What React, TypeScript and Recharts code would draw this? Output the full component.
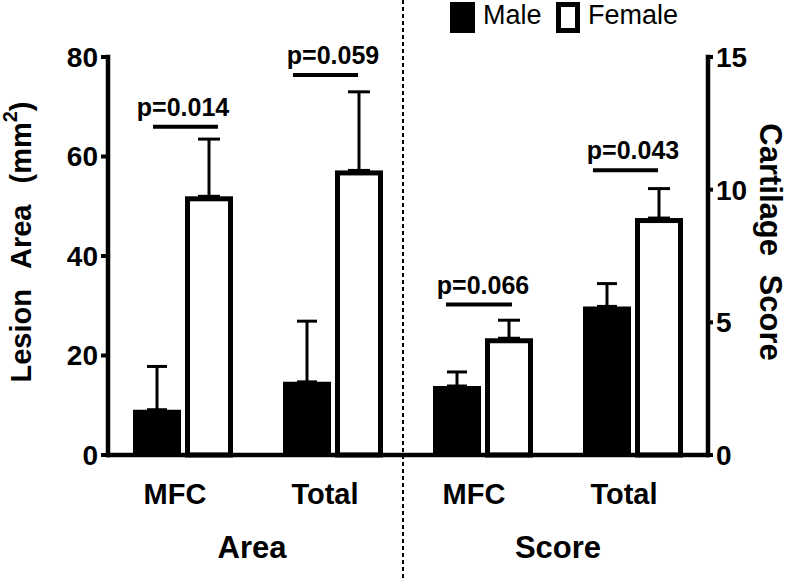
import React from "react";
import { BarChart, Bar, XAxis, YAxis, ErrorBar, ReferenceArea, Legend } from "recharts";

// left panel: lesion area (mm2)
const areaCategories = ["MFC", "Total"];
const areaMale = [9.1, 14.7];
const areaMaleErr = [8.7, 12.2];
const areaFemale = [52.0, 57.2];
const areaFemaleErr = [11.5, 15.8];
const areaTicks = [0, 20, 40, 60, 80];
const areaPValues = ["p=0.014", "p=0.059"];
const areaBracketY = [66, 76.4];
// bracket ends as fractions of the category band
const areaBracketSpan = [[0.3, 0.733], [0.233, 0.667]];

// right panel: cartilage score
const scoreCategories = ["MFC", "Total"];
const scoreMale = [2.6, 5.6];
const scoreMaleErr = [0.53, 0.86];
const scoreFemale = [4.4, 8.93];
const scoreFemaleErr = [0.68, 1.11];
const scoreTicks = [0, 5, 10, 15];
const scorePValues = ["p=0.066", "p=0.043"];
const scoreBracketY = [5.67, 10.73];
const scoreBracketSpan = [[0.253, 0.693], [0.233, 0.667]];

const FONT = "'Liberation Sans', Arial, sans-serif";

const buildRows = (cats: string[], male: number[], maleErr: number[], female: number[], femaleErr: number[]) =>
  cats.map((cat, i) => ({
    cat,
    male: male[i],
    female: female[i],
    maleErr: [0, maleErr[i]],
    femaleErr: [0, femaleErr[i]],
  }));

const areaRows = buildRows(areaCategories, areaMale, areaMaleErr, areaFemale, areaFemaleErr);
const scoreRows = buildRows(scoreCategories, scoreMale, scoreMaleErr, scoreFemale, scoreFemaleErr);

// open bar, stroke drawn inside the bar box
const OpenBar = (props: any) => {
  const { x, y, width, height } = props;
  if (!height || height <= 0) return null;
  return (
    <rect
      x={x + 2.5}
      y={y + 2.5}
      width={width - 5}
      height={height - 2.5}
      fill="#fff"
      stroke="#000"
      strokeWidth={5}
    />
  );
};

// significance bar drawn inside the category band
const Bracket = (props: any) => {
  const { x, y, width, span } = props;
  if (x == null || y == null || !span) return null;
  return (
    <line
      x1={x + span[0] * width}
      x2={x + span[1] * width}
      y1={y}
      y2={y}
      stroke="#000"
      strokeWidth={4}
    />
  );
};

const LeftTitle = (props: any) => {
  const vb = props.viewBox || { y: 57, height: 398 };
  const cx = 21;
  const cy = vb.y + vb.height / 2 - 14;
  return (
    <text
      x={cx}
      y={cy}
      transform={`rotate(-90, ${cx}, ${cy})`}
      textAnchor="middle"
      dominantBaseline="central"
      fontSize={29}
      fontWeight="bold"
      fill="#000"
      style={{ wordSpacing: 13 }}
    >
      Lesion Area (mm<tspan dy={-11} fontSize={20}>2</tspan>
      <tspan dy={11}>)</tspan>
    </text>
  );
};

const RightTitle = (props: any) => {
  const vb = props.viewBox || { y: 57, height: 398 };
  const cx = 362;
  const cy = vb.y + vb.height / 2 - 14;
  return (
    <text
      x={cx}
      y={cy}
      transform={`rotate(90, ${cx}, ${cy})`}
      textAnchor="middle"
      dominantBaseline="central"
      fontSize={31}
      fontWeight="bold"
      fill="#000"
      style={{ wordSpacing: 10 }}
    >
      Cartilage Score
    </text>
  );
};

const LegendBox = () => (
  <div style={{ position: "relative", width: 260, height: 36, fontFamily: FONT, color: "#000" }}>
    <div style={{ position: "absolute", left: 0, top: 2, width: 25, height: 31, background: "#000" }} />
    <span style={{ position: "absolute", left: 33, top: 0, fontSize: 27, lineHeight: "31px" }}>Male</span>
    <div
      style={{
        position: "absolute",
        left: 106,
        top: 2,
        width: 24,
        height: 31,
        background: "#fff",
        border: "5px solid #000",
        boxSizing: "border-box",
      }}
    />
    <span style={{ position: "absolute", left: 138, top: 0, fontSize: 27, lineHeight: "31px" }}>Female</span>
  </div>
);

type PanelProps = {
  side: "left" | "right";
  rows: any[];
  ticks: number[];
  pValues: string[];
  bracketSpan: number[][];
  bracketY: number[];
  group: string;
  tickDx: number;
  groupDx: number;
};

function Panel({ side, rows, ticks, pValues, bracketSpan, bracketY, group, tickDx, groupDx }: PanelProps) {
  const isLeft = side === "left";
  const width = isLeft ? 408 : 392;
  const axisLine = { stroke: "#000", strokeWidth: 4.5, strokeLinecap: "square" as const };
  return (
    <BarChart
      width={width}
      height={578}
      data={rows}
      margin={{ top: 57, right: 0, bottom: 0, left: isLeft ? 60 : 0 }}
      barCategoryGap={25}
      barGap={4}
    >
      <XAxis
        dataKey="cat"
        height={123}
        tickLine={false}
        tickSize={6}
        tickMargin={22}
        axisLine={axisLine}
        tick={{ fill: "#000", fontSize: 29, fontWeight: "bold", dx: tickDx }}
        label={{ value: group, position: "insideBottom", offset: 20, dx: groupDx, fill: "#000", fontSize: 31, fontWeight: "bold" }}
      />
      <YAxis
        orientation={side}
        width={isLeft ? 48 : 92}
        domain={[0, ticks[ticks.length - 1]]}
        ticks={ticks}
        interval={0}
        tickSize={isLeft ? 7 : 5}
        tickMargin={3}
        axisLine={axisLine}
        tickLine={{ stroke: "#000", strokeWidth: 4 }}
        tick={{ fill: "#000", fontSize: 28, fontWeight: "bold" }}
        label={isLeft ? <LeftTitle /> : <RightTitle />}
      />
      {!isLeft && (
        <Legend
          layout="vertical"
          align="center"
          verticalAlign="middle"
          wrapperStyle={{ top: 0, left: 42, width: 260, height: 36 }}
          content={() => <LegendBox />}
        />
      )}
      <Bar dataKey="male" name="Male" fill="#000" isAnimationActive={false}>
        <ErrorBar dataKey="maleErr" width={10} strokeWidth={3} stroke="#000" direction="y" />
      </Bar>
      <Bar dataKey="female" name="Female" fill="#fff" shape={<OpenBar />} isAnimationActive={false}>
        <ErrorBar dataKey="femaleErr" width={11} strokeWidth={3} stroke="#000" direction="y" />
      </Bar>
      {pValues.map((p, i) => (
        <ReferenceArea
          key={p}
          x1={rows[i].cat}
          x2={rows[i].cat}
          y1={bracketY[i]}
          y2={bracketY[i]}
          ifOverflow="visible"
          shape={<Bracket span={bracketSpan[i]} />}
          label={{ value: p, position: "top", offset: 11, fill: "#000", fontSize: 25, fontWeight: "bold" }}
        />
      ))}
    </BarChart>
  );
}

export default function App() {
  return (
    <div
      style={{
        position: "absolute",
        left: 0,
        top: 0,
        width: 800,
        height: 578,
        background: "#fff",
        fontFamily: FONT,
        overflow: "hidden",
      }}
    >
      <svg width={800} height={578} style={{ position: "absolute", left: 0, top: 0 }}>
        <line x1={403} y1={0} x2={403} y2={578} stroke="#000" strokeWidth={2} strokeDasharray="4 3" />
      </svg>
      <div style={{ position: "absolute", left: 0, top: 0 }}>
        <Panel
          side="left"
          rows={areaRows}
          ticks={areaTicks}
          pValues={areaPValues}
          bracketSpan={areaBracketSpan}
          bracketY={areaBracketY}
          group="Area"
          tickDx={-8}
          groupDx={-6}
        />
      </div>
      <div style={{ position: "absolute", left: 408, top: 0 }}>
        <Panel
          side="right"
          rows={scoreRows}
          ticks={scoreTicks}
          pValues={scorePValues}
          bracketSpan={scoreBracketSpan}
          bracketY={scoreBracketY}
          group="Score"
          tickDx={-9}
          groupDx={0}
        />
      </div>
    </div>
  );
}
